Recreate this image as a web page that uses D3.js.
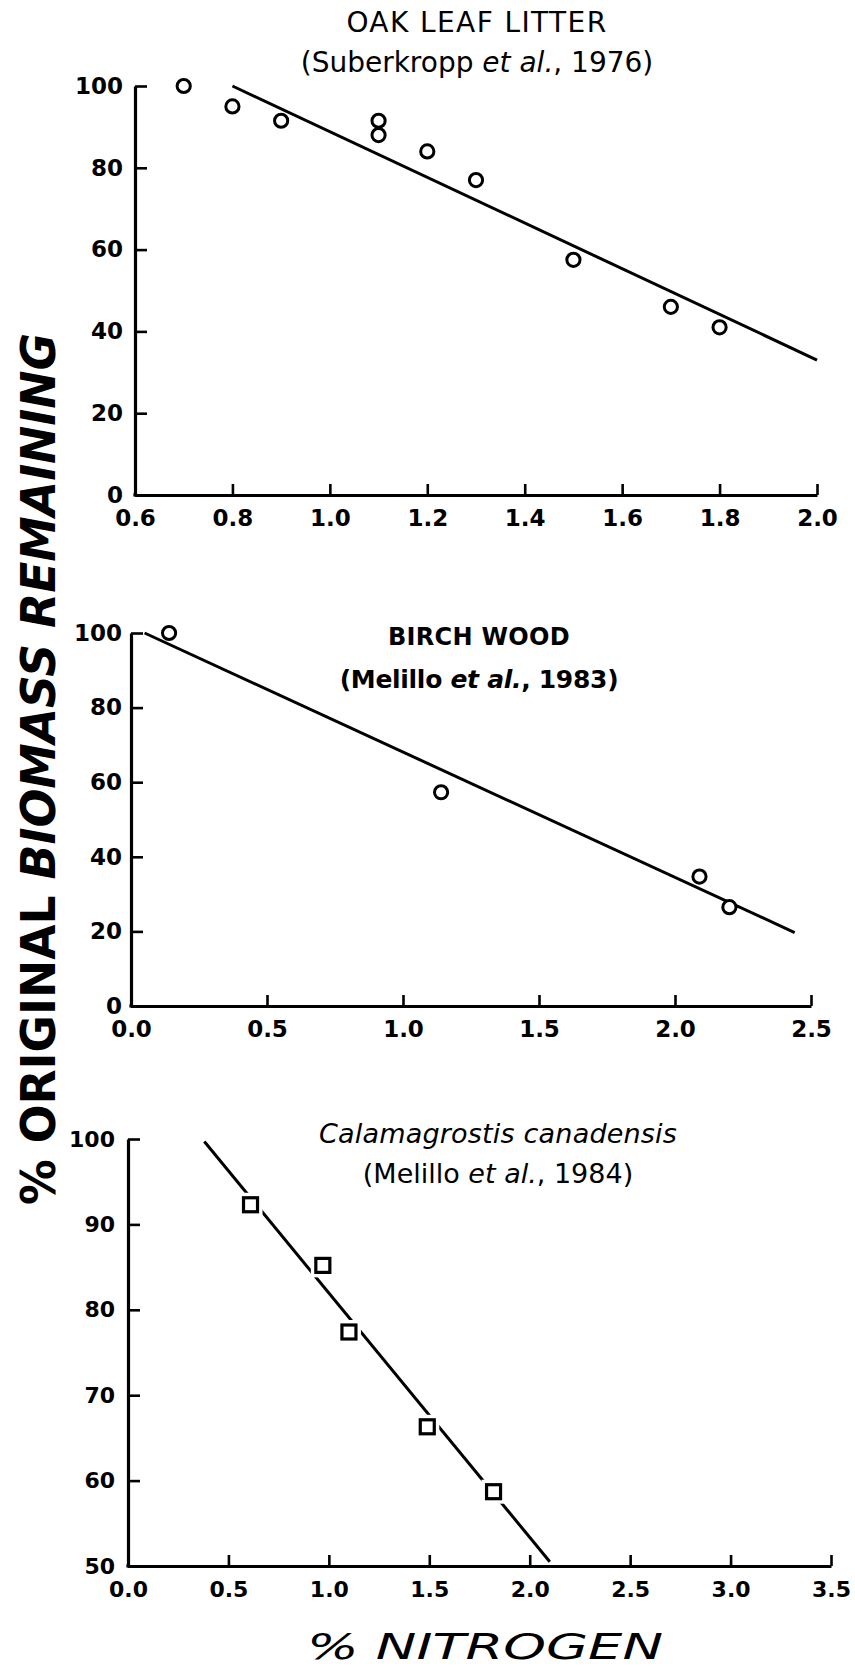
<!DOCTYPE html>
<html>
<head>
<meta charset="utf-8">
<script src="https://cdn.jsdelivr.net/npm/d3@7"></script>
<style>
  html, body { margin: 0; padding: 0; background: #fff; }
  svg { display: block; }
  .tick text { font-weight: bold; fill: #000; }
</style>
</head>
<body>
<script>
// Oak leaf litter (Suberkropp et al., 1976)
const oakNitrogen = [0.7, 0.8, 0.9, 1.1, 1.1, 1.2, 1.3, 1.5, 1.7, 1.8];
const oakRemaining = [100, 95, 91.5, 91.5, 88, 84, 77, 57.5, 46, 41];
const oakFitNitrogen = [0.8, 2.0];
const oakFitRemaining = [100, 33];
const oakXTicks = [0.6, 0.8, 1.0, 1.2, 1.4, 1.6, 1.8, 2.0];
const oakYTicks = [0, 20, 40, 60, 80, 100];

// Birch wood (Melillo et al., 1983)
const birchNitrogen = [0.14, 1.14, 2.09, 2.2];
const birchRemaining = [100, 57.3, 34.7, 26.5];
const birchFitNitrogen = [0.05, 2.44];
const birchFitRemaining = [100, 19.7];
const birchXTicks = [0.0, 0.5, 1.0, 1.5, 2.0, 2.5];
const birchYTicks = [0, 20, 40, 60, 80, 100];

// Calamagrostis canadensis (Melillo et al., 1984)
const calaNitrogen = [0.61, 0.97, 1.10, 1.49, 1.82];
const calaRemaining = [92.3, 85.2, 77.4, 66.3, 58.7];
const calaFitNitrogen = [0.38, 2.10];
const calaFitRemaining = [99.7, 50.5];
const calaXTicks = [0.0, 0.5, 1.0, 1.5, 2.0, 2.5, 3.0, 3.5];
const calaYTicks = [50, 60, 70, 80, 90, 100];

const W = 855, H = 1669;
const svg = d3.select("body").append("svg")
  .attr("width", W).attr("height", H)
  .attr("viewBox", `0 0 ${W} ${H}`);

const FONT = '"DejaVu Sans", "Liberation Sans", Arial, sans-serif';

function panel(cfg) {
  const x = d3.scaleLinear().domain(cfg.xDomain).range(cfg.xRange);
  const y = d3.scaleLinear().domain(cfg.yDomain).range(cfg.yRange);
  const g = svg.append("g");

  // x axis with inward ticks
  const xa = g.append("g")
    .attr("transform", `translate(0,${cfg.yRange[0]})`)
    .call(d3.axisBottom(x).tickValues(cfg.xTicks).tickFormat(d3.format(".1f"))
      .tickSizeInner(-11).tickSizeOuter(0).tickPadding(15));
  // y axis with inward ticks
  const ya = g.append("g")
    .attr("transform", `translate(${cfg.xRange[0]},0)`)
    .call(d3.axisLeft(y).tickValues(cfg.yTicks).tickFormat(d3.format("d"))
      .tickSizeInner(-12).tickSizeOuter(0).tickPadding(cfg.yPad));
  [xa, ya].forEach(a => {
    a.select(".domain").attr("stroke", "#000").attr("stroke-width", 3.2);
    a.selectAll(".tick line").attr("stroke", "#000").attr("stroke-width", 2.6);
    a.selectAll(".tick text").attr("font-size", cfg.tickFont).attr("font-family", FONT);
  });
  // close the corner where the two axis lines meet
  g.append("line")
    .attr("x1", cfg.xRange[0] - 1.6).attr("x2", cfg.xRange[0] + 2)
    .attr("y1", cfg.yRange[0]).attr("y2", cfg.yRange[0])
    .attr("stroke", "#000").attr("stroke-width", 3.2);

  // regression line
  const fit = cfg.fitX.map((d, i) => [d, cfg.fitY[i]]);
  g.append("path")
    .attr("d", d3.line().x(d => x(d[0])).y(d => y(d[1]))(fit))
    .attr("fill", "none").attr("stroke", "#000").attr("stroke-width", 3);

  const pts = cfg.px.map((d, i) => [d, cfg.py[i]]);
  if (cfg.marker === "circle") {
    g.selectAll("circle.pt").data(pts).join("circle")
      .attr("class", "pt")
      .attr("cx", d => x(d[0])).attr("cy", d => y(d[1]))
      .attr("r", 6.6)
      .attr("fill", "#fff").attr("stroke", "#000").attr("stroke-width", 3);
  } else {
    // white halo opens a gap in the line around each square
    g.selectAll("rect.halo").data(pts).join("rect")
      .attr("class", "halo")
      .attr("x", d => x(d[0]) - 12).attr("y", d => y(d[1]) - 12)
      .attr("width", 24).attr("height", 24).attr("fill", "#fff");
    g.selectAll("rect.pt").data(pts).join("rect")
      .attr("class", "pt")
      .attr("x", d => x(d[0]) - 7).attr("y", d => y(d[1]) - 7)
      .attr("width", 14).attr("height", 14)
      .attr("fill", "#fff").attr("stroke", "#000").attr("stroke-width", 3.2);
  }

  // two-line title
  const t1 = g.append("text").attr("x", cfg.titleX).attr("y", cfg.titleY[0])
    .attr("text-anchor", "middle").attr("font-family", FONT)
    .attr("font-size", cfg.titleFont[0]).attr("fill", "#000");
  cfg.title1.forEach(s => t1.append("tspan").text(s.t)
    .attr("font-style", s.i ? "italic" : "normal")
    .attr("font-weight", cfg.titleWeight[0])
    .attr("letter-spacing", cfg.titleSpacing[0]));
  const t2 = g.append("text").attr("x", cfg.titleX).attr("y", cfg.titleY[1])
    .attr("text-anchor", "middle").attr("font-family", FONT)
    .attr("font-size", cfg.titleFont[1]).attr("fill", "#000");
  cfg.title2.forEach(s => t2.append("tspan").text(s.t)
    .attr("font-style", s.i ? "italic" : "normal")
    .attr("font-weight", cfg.titleWeight[1])
    .attr("letter-spacing", cfg.titleSpacing[1]));
}

panel({
  xDomain: [0.6, 2.0], xRange: [135, 817],
  yDomain: [0, 100], yRange: [495, 86],
  xTicks: oakXTicks, yTicks: oakYTicks, yPad: 12, tickFont: 23,
  fitX: oakFitNitrogen, fitY: oakFitRemaining,
  px: oakNitrogen, py: oakRemaining, marker: "circle",
  titleX: 477, titleY: [32, 72], titleFont: [28, 28], titleWeight: ["normal", "normal"],
  titleSpacing: [1.4, 0],
  title1: [{t: "OAK LEAF LITTER"}],
  title2: [{t: "(Suberkropp "}, {t: "et al.", i: true}, {t: ", 1976)"}]
});

panel({
  xDomain: [0, 2.5], xRange: [131, 811],
  yDomain: [0, 100], yRange: [1006, 633],
  xTicks: birchXTicks, yTicks: birchYTicks, yPad: 9, tickFont: 23,
  fitX: birchFitNitrogen, fitY: birchFitRemaining,
  px: birchNitrogen, py: birchRemaining, marker: "circle",
  titleX: 479, titleY: [645, 688], titleFont: [24, 25], titleWeight: ["bold", "bold"],
  titleSpacing: [0.3, -0.3],
  title1: [{t: "BIRCH WOOD"}],
  title2: [{t: "(Melillo "}, {t: "et al.", i: true}, {t: ", 1983)"}]
});

panel({
  xDomain: [0, 3.5], xRange: [128, 831],
  yDomain: [50, 100], yRange: [1566, 1139],
  xTicks: calaXTicks, yTicks: calaYTicks, yPad: 13, tickFont: 22,
  fitX: calaFitNitrogen, fitY: calaFitRemaining,
  px: calaNitrogen, py: calaRemaining, marker: "square",
  titleX: 498, titleY: [1143, 1183], titleFont: [27, 27], titleWeight: ["normal", "normal"],
  titleSpacing: [0.2, 0],
  title1: [{t: "Calamagrostis canadensis", i: true}],
  title2: [{t: "(Melillo "}, {t: "et al.", i: true}, {t: ",  1984)"}]
});

// shared y-axis title
const yl = svg.append("text")
  .attr("transform", "translate(55,769) rotate(-90)")
  .attr("text-anchor", "middle")
  .attr("font-family", FONT).attr("font-weight", "bold")
  .attr("font-size", 48).attr("fill", "#000")
  .attr("textLength", 872).attr("lengthAdjust", "spacingAndGlyphs");
yl.append("tspan").text("% ORIGINAL ");
yl.append("tspan").attr("font-style", "italic").text("BIOMASS REMAINING");

// shared x-axis title
svg.append("text")
  .attr("x", 485).attr("y", 1659)
  .attr("text-anchor", "middle")
  .attr("font-family", FONT).attr("font-style", "italic")
  .attr("font-size", 36).attr("fill", "#000")
  .attr("textLength", 356).attr("lengthAdjust", "spacingAndGlyphs")
  .text("% NITROGEN");
</script>
</body>
</html>
